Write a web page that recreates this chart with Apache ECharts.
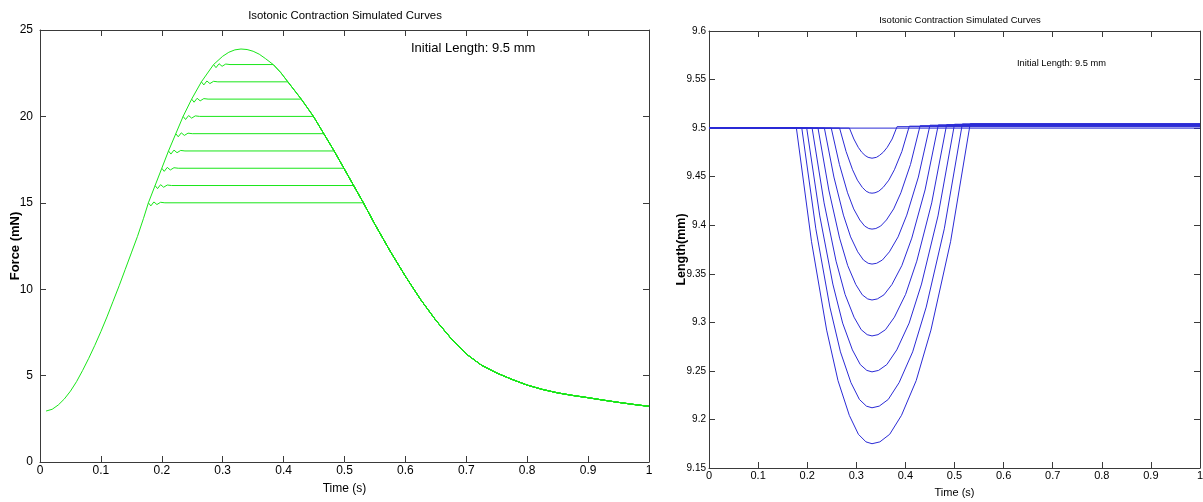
<!DOCTYPE html>
<html><head><meta charset="utf-8">
<script src="https://cdn.jsdelivr.net/npm/echarts/dist/echarts.min.js"></script>
<style>html,body{margin:0;padding:0;background:#fff}#c{width:1203px;height:502px}</style>
</head><body><div id="c"></div><script>
// ---------- data ----------
const chartTitle = 'Isotonic Contraction Simulated Curves';
const noteText = 'Initial Length: 9.5 mm';
const xName = 'Time (s)';
const forceName = 'Force (mN)';
const lengthName = 'Length(mm)';

// isotonic loads (mN) with start / end time of the shortening phase (s)
const loads    = [23, 22, 21, 20, 19, 18, 17, 16, 15];
const isoStart = [0.285, 0.265, 0.249, 0.235, 0.223, 0.211, 0.200, 0.189, 0.178];
const isoEnd   = [0.383, 0.407, 0.429, 0.449, 0.466, 0.483, 0.499, 0.515, 0.531];
// small force ripple right after the load is reached: [dt, dF]
const ripple = [[0.004, -0.18], [0.009, 0.05], [0.014, -0.10], [0.020, 0.03], [0.027, 0]];

// unloaded twitch force curve [t, F]
const twitch = [
  [0.01,2.95],[0.02,3.05],[0.03,3.3],[0.04,3.65],[0.05,4.1],[0.06,4.65],[0.07,5.3],[0.08,6.0],
  [0.09,6.75],[0.10,7.55],[0.11,8.4],[0.12,9.3],[0.13,10.2],[0.14,11.15],[0.15,12.1],[0.16,13.05],
  [0.17,14.1],[0.178,15],[0.189,16],[0.200,17],[0.211,18],[0.223,19],[0.235,20],[0.249,21],
  [0.265,22],[0.285,23],[0.30,23.48],[0.31,23.71],[0.32,23.85],[0.33,23.9],[0.34,23.87],
  [0.35,23.77],[0.36,23.6],[0.37,23.35],[0.383,23],[0.395,22.55],[0.407,22],[0.418,21.5],
  [0.429,21],[0.449,20],[0.466,19],[0.483,18],[0.499,17],[0.515,16],[0.531,15],[0.55,13.75],
  [0.575,12.2],[0.60,10.75],[0.625,9.4],[0.65,8.2],[0.675,7.15],[0.70,6.25],[0.725,5.6],
  [0.75,5.15],[0.775,4.78],[0.80,4.45],[0.825,4.2],[0.85,4.0],[0.875,3.85],[0.90,3.72],
  [0.925,3.58],[0.95,3.45],[0.975,3.33],[1.0,3.22]
];

// muscle length curves (mm), one per load, [t, L]
const baseLength = [[0, 9.5], [1, 9.5]];
const lengthCurves = [
  [[0,9.5],[0.286,9.5],[0.295,9.4888],[0.304,9.4802],[0.311,9.4752],[0.318,9.4718],[0.324,9.4699],[0.328,9.4692],[0.332,9.469],
   [0.336,9.4692],[0.341,9.4699],[0.347,9.4718],[0.355,9.4752],[0.363,9.4802],[0.373,9.4888],[0.383,9.5015],[1,9.5015]],
  [[0,9.5],[0.266,9.5],[0.2792,9.4759],[0.2924,9.4571],[0.3023,9.4464],[0.3122,9.439],[0.3201,9.435],[0.3267,9.4334],[0.332,9.433],
   [0.3381,9.4334],[0.3457,9.435],[0.3548,9.439],[0.3662,9.4464],[0.3776,9.4571],[0.3928,9.4759],[0.408,9.502],[1,9.502]],
  [[0,9.5],[0.249,9.5],[0.2656,9.4626],[0.2822,9.4334],[0.2947,9.4168],[0.3071,9.4054],[0.3171,9.3991],[0.3254,9.3966],[0.332,9.396],
   [0.3398,9.3966],[0.3496,9.3991],[0.3614,9.4054],[0.3761,9.4168],[0.3908,9.4334],[0.4104,9.4626],[0.430,9.5025],[1,9.5025]],
  [[0,9.5],[0.235,9.5],[0.2544,9.4496],[0.2738,9.4104],[0.2884,9.388],[0.3029,9.3726],[0.3145,9.3642],[0.3242,9.3608],[0.332,9.36],
   [0.3414,9.3608],[0.3532,9.3642],[0.3674,9.3726],[0.3851,9.388],[0.4028,9.4104],[0.4264,9.4496],[0.450,9.503],[1,9.503]],
  [[0,9.5],[0.222,9.5],[0.244,9.4363],[0.266,9.3867],[0.2825,9.3584],[0.299,9.3389],[0.3122,9.3283],[0.3232,9.3241],[0.332,9.323],
   [0.3428,9.3241],[0.3563,9.3283],[0.3725,9.3389],[0.3927,9.3584],[0.413,9.3867],[0.440,9.4363],[0.467,9.5033],[1,9.5033]],
  [[0,9.5],[0.210,9.5],[0.2344,9.423],[0.2588,9.363],[0.2771,9.3288],[0.2954,9.3053],[0.310,9.2924],[0.3222,9.2873],[0.332,9.286],
   [0.3442,9.2873],[0.3594,9.2924],[0.3776,9.3053],[0.4004,9.3288],[0.4232,9.363],[0.4536,9.423],[0.484,9.5036],[1,9.5036]],
  [[0,9.5],[0.199,9.5],[0.2256,9.4096],[0.2522,9.3394],[0.2722,9.2992],[0.2921,9.2716],[0.3081,9.2565],[0.3214,9.2505],[0.332,9.249],
   [0.3454,9.2505],[0.3622,9.2565],[0.3824,9.2716],[0.4076,9.2992],[0.4328,9.3394],[0.4664,9.4096],[0.500,9.504],[1,9.504]],
  [[0,9.5],[0.189,9.5],[0.2176,9.3963],[0.2462,9.3157],[0.2677,9.2696],[0.2891,9.2379],[0.3063,9.2206],[0.3206,9.2137],[0.332,9.212],
   [0.3467,9.2137],[0.3651,9.2206],[0.3872,9.2379],[0.4148,9.2696],[0.4424,9.3157],[0.4792,9.3963],[0.516,9.5043],[1,9.5043]],
  [[0,9.5],[0.178,9.5],[0.2088,9.383],[0.2396,9.292],[0.2627,9.24],[0.2858,9.2042],[0.3043,9.1847],[0.3197,9.1769],[0.332,9.175],
   [0.348,9.1769],[0.368,9.1847],[0.392,9.2042],[0.422,9.24],[0.452,9.292],[0.492,9.383],[0.532,9.5046],[1,9.5046]]
];

// axis ranges / ticks
const timeAxis = {min: 0, max: 1, interval: 0.1};
const forceAxis = {min: 0, max: 25, interval: 5};
const lengthAxis = {min: 9.15, max: 9.6, interval: 0.05};

// ---------- chart ----------
const FONT = 'Liberation Sans, Arial, sans-serif';
const GREEN = '#19e619';
const BLUE = '#2b2bd6';
const AX = '#3a3a3a';

const isoSeries = loads.map((L, i) => {
  const s = isoStart[i], e = isoEnd[i];
  const pts = [[s, L]];
  ripple.forEach(r => pts.push([s + r[0], L + r[1]]));
  pts.push([e, L]);
  twitch.forEach(p => { if (p[0] > e) pts.push(p); });
  return pts;
});

function boxAxes(grid, range, isX, fontSize, margin, fmt) {
  const common = {
    type: 'value', gridIndex: grid, min: range.min, max: range.max, interval: range.interval,
    axisLine: {show: true, onZero: false, lineStyle: {color: AX, width: 1}},
    axisTick: {show: true, inside: true, length: 6, lineStyle: {color: AX}},
    splitLine: {show: false}
  };
  const main = Object.assign({}, common, {
    position: isX ? 'bottom' : 'left',
    axisLabel: {show: true, color: '#000', fontFamily: FONT, fontSize: fontSize, margin: margin, formatter: fmt,
      showMinLabel: true, showMaxLabel: true, hideOverlap: false}
  });
  const mirror = Object.assign({}, common, {
    position: isX ? 'top' : 'right', axisLabel: {show: false}
  });
  return [main, mirror];
}
const fmt = v => String(+v.toFixed(2));

const xL = boxAxes(0, timeAxis, true, 12, 3, fmt);
const yL = boxAxes(0, forceAxis, false, 12, 7, fmt);
const xR = boxAxes(1, timeAxis, true, 11, 2, fmt);
const yR = boxAxes(1, lengthAxis, false, 10, 3, fmt);

Object.assign(xL[0], {name: xName, nameLocation: 'middle', nameGap: 21, nameMoveOverlap: false,
  nameTextStyle: {color: '#000', fontFamily: FONT, fontSize: 12}});
Object.assign(yL[0], {name: forceName, nameLocation: 'middle', nameGap: 18, nameMoveOverlap: false,
  nameTextStyle: {color: '#000', fontFamily: FONT, fontSize: 13, fontWeight: 'bold'}});
Object.assign(xR[0], {name: xName, nameLocation: 'middle', nameGap: 19, nameMoveOverlap: false,
  nameTextStyle: {color: '#000', fontFamily: FONT, fontSize: 11}});
Object.assign(yR[0], {name: lengthName, nameLocation: 'middle', nameGap: 21, nameMoveOverlap: false,
  nameTextStyle: {color: '#000', fontFamily: FONT, fontSize: 12.5, fontWeight: 'bold'}});

const lineBase = {type: 'line', showSymbol: false, symbol: 'none', animation: false, silent: true};
const series = [];
series.push(Object.assign({}, lineBase, {xAxisIndex: 0, yAxisIndex: 0, data: twitch,
  lineStyle: {color: GREEN, width: 1}}));
isoSeries.forEach(d => series.push(Object.assign({}, lineBase, {xAxisIndex: 0, yAxisIndex: 0, data: d,
  lineStyle: {color: GREEN, width: 1}})));
series.push(Object.assign({}, lineBase, {xAxisIndex: 2, yAxisIndex: 2, data: baseLength,
  lineStyle: {color: BLUE, width: 1}}));
lengthCurves.forEach(d => series.push(Object.assign({}, lineBase, {xAxisIndex: 2, yAxisIndex: 2, data: d,
  lineStyle: {color: BLUE, width: 1}})));

const chart = echarts.init(document.getElementById('c'), null, {renderer: 'canvas'});
chart.setOption({
  animation: false,
  backgroundColor: '#fff',
  title: [
    {text: chartTitle, left: 340, top: 5, textAlign: 'center',
     textStyle: {color: '#000', fontFamily: FONT, fontSize: 11.4, fontWeight: 'normal'}},
    {text: chartTitle, left: 955, top: 10, textAlign: 'center',
     textStyle: {color: '#000', fontFamily: FONT, fontSize: 9.5, fontWeight: 'normal'}}
  ],
  grid: [
    {left: 40, top: 30, width: 609, height: 432, containLabel: false, outerBoundsMode: 'none'},
    {left: 709, top: 31, width: 491, height: 437, containLabel: false, outerBoundsMode: 'none'}
  ],
  xAxis: [xL[0], xL[1], xR[0], xR[1]],
  yAxis: [yL[0], yL[1], yR[0], yR[1]],
  graphic: [
    {type: 'text', left: 411, top: 42, style: {text: noteText, fill: '#000', font: '13px ' + FONT}},
    {type: 'text', left: 1017, top: 59, style: {text: noteText, fill: '#000', font: '9.3px ' + FONT}}
  ],
  series: series
});
</script></body></html>
